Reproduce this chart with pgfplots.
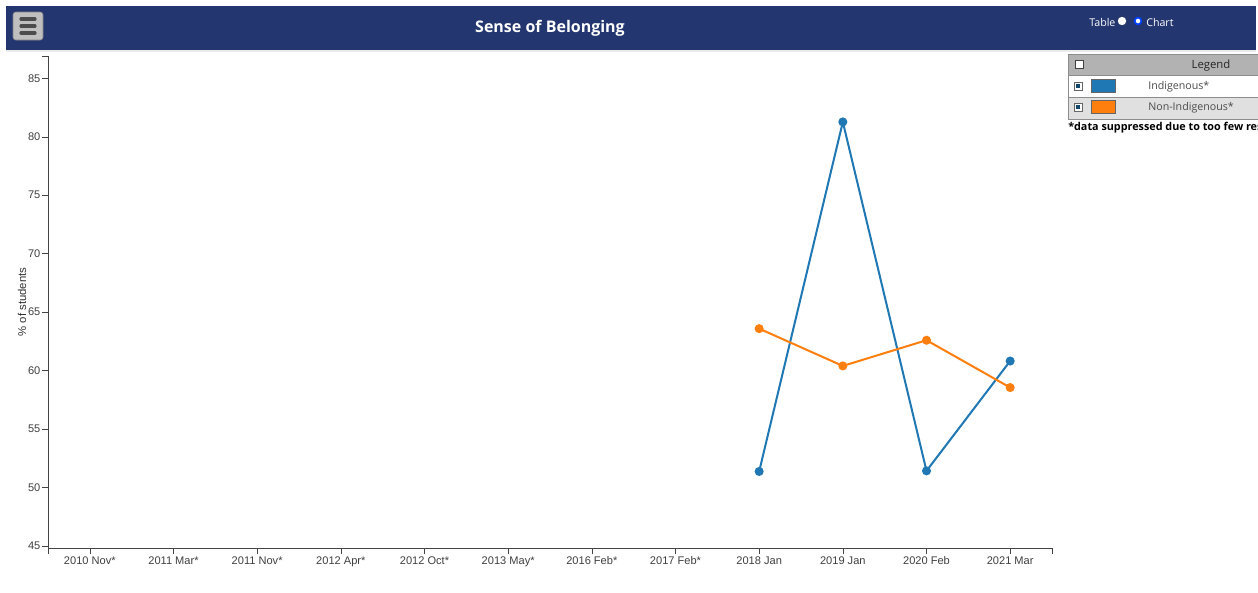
\documentclass[border=0pt]{standalone}
\usepackage{pgfplots}
\pgfplotsset{compat=1.18}
\usepackage{fontspec}
\setmainfont{Liberation Sans}
\newfontfamily\uifont{Open Sans}
\definecolor{navy}{HTML}{24366F}
\definecolor{indig}{HTML}{1F77B4}
\definecolor{nonind}{HTML}{FF7F0E}
\definecolor{axisgray}{HTML}{444444}

\begin{document}
\begin{tikzpicture}[x=0.75pt,y=-0.75pt]
\clip (0,0) rectangle (1258,593);
\fill[white] (0,0) rectangle (1258,593);
% header bar
\fill[navy] (6,6) rectangle (1256,50);
\fill[black!8] (6,50) rectangle (1256,52);
\filldraw[fill=black!25, draw=black!50, rounded corners=2pt] (13,12) rectangle (43,40);
\foreach \yy in {19,26,33} \draw[black!70, line width=2.4pt, line cap=round] (21,\yy) -- (35,\yy);
\node[white, font=\uifont\bfseries\fontsize{12}{14}\selectfont] at (550,28) {Sense of Belonging};
\node[white, anchor=west, inner sep=0pt, font=\uifont\fontsize{8}{10}\selectfont] at (1089,22) {Table};
\fill[white] (1122,21) circle (4.2);
\filldraw[fill=white, draw=blue!75!cyan, line width=1.3pt] (1138,21) circle (3.4);
\node[white, anchor=west, inner sep=0pt, font=\uifont\fontsize{8}{10}\selectfont] at (1146,22) {Chart};
% legend table
\filldraw[fill=black!30, draw=black!45] (1068,54) rectangle (1262,75);
\filldraw[fill=white, draw=black!45] (1068,75) rectangle (1262,97);
\filldraw[fill=black!12, draw=black!45] (1068,97) rectangle (1262,119);
\filldraw[fill=white, draw=black!75] (1075,60) rectangle (1083,68);
\node[font=\uifont\fontsize{8.5}{10}\selectfont, text=black!85] at (1211,65.5) {Legend};
\foreach \yy in {86,107} {
  \filldraw[fill=white, draw=black!60] (1074,\yy-4) rectangle (1082,\yy+4);
  \fill[black!40!indig] (1076,\yy-2) rectangle (1080,\yy+2);
}
\filldraw[fill=indig, draw=black!60] (1091,79) rectangle (1115,92);
\filldraw[fill=nonind, draw=black!60] (1091,100) rectangle (1115,113);
\node[anchor=west, inner sep=0pt, font=\uifont\fontsize{8}{10}\selectfont, text=black!70] at (1148,87) {Indigenous*};
\node[anchor=west, inner sep=0pt, font=\uifont\fontsize{8}{10}\selectfont, text=black!70] at (1148,108) {Non-Indigenous*};
\node[anchor=west, inner sep=0pt, font=\uifont\bfseries\fontsize{8.1}{9}\selectfont] at (1068,128) {*data suppressed due to too few respondents};
% y label
\node[rotate=90, text=black!80, font=\fontsize{8.5}{10}\selectfont] at (22,302) {\% of students};
% outer ticks of the axis domain paths
\draw[axisgray] (42,56) -- (48,56);
\draw[axisgray] (48,548) -- (48,554);
\draw[axisgray] (1052,548) -- (1052,554);
\begin{axis}[
    at={(36pt,-411pt)}, anchor=south west,
    scale only axis,
    width=753pt, height=369pt,
    xmin=-0.5, xmax=11.5,
    ymin=44.8, ymax=86.9,
    axis x line*=bottom, axis y line*=left,
    axis line style={axisgray, -},
    xtick={0,...,11},
    xticklabels={2010 Nov*,2011 Mar*,2011 Nov*,2012 Apr*,2012 Oct*,2013 May*,2016 Feb*,2017 Feb*,2018 Jan,2019 Jan,2020 Feb,2021 Mar},
    ytick={45,50,...,85},
    tick align=outside,
    major tick length=4.5pt,
    tick style={axisgray},
    ticklabel style={font=\fontsize{8.3}{10}\selectfont, text=black!75},
    yticklabel style={/pgf/number format/assume math mode=true, inner sep=1pt},
    xticklabel style={inner sep=1pt, yshift=-0.5pt},
]
\addplot[indig, line width=1.5pt, mark=*, mark size=2.6pt] coordinates {(8,51.35) (9,81.26) (10,51.4) (11,60.8)};
\addplot[nonind, line width=1.5pt, mark=*, mark size=2.6pt] coordinates {(8,63.57) (9,60.38) (10,62.58) (11,58.53)};
\end{axis}
\end{tikzpicture}
\end{document}
